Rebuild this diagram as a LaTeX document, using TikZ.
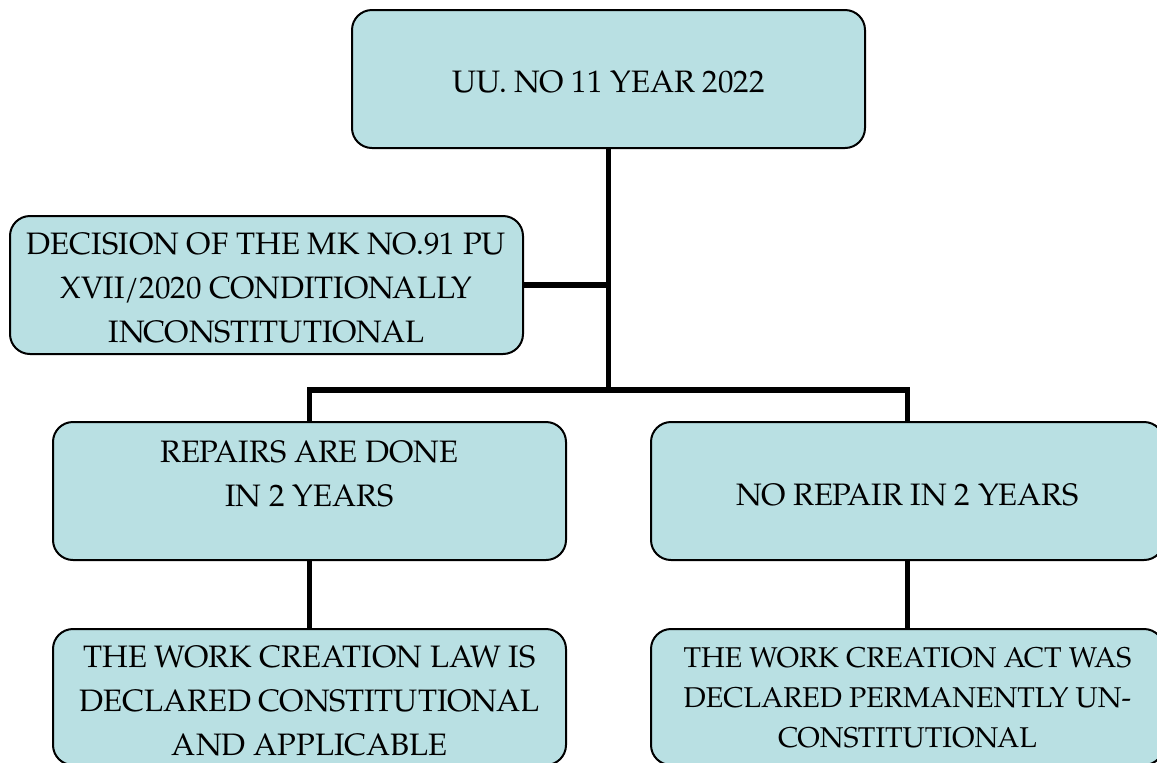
\documentclass[tikz,border=0pt]{standalone}
\usepackage{fontspec}
\setmainfont{texgyrepagella}[Extension=.otf,UprightFont=*-regular,BoldFont=*-bold]
\definecolor{boxfill}{RGB}{185,224,227}
\newcommand\tlines[2]{\raisebox{#1}[\height][\depth]{\begin{tabular}{@{}c@{}}#2\end{tabular}}}
\tikzset{
  box/.style={draw=black, line width=1pt, fill=boxfill, rounded corners=10pt,
    minimum width=256.5pt, minimum height=69pt, inner sep=0pt, align=center,
    font=\fontsize{15.5}{22}\selectfont},
  smalltext/.style={font=\fontsize{14.3}{20}\selectfont},
  conn/.style={line width=2.6pt, line join=miter}
}
\begin{document}
\begin{tikzpicture}[x=0.5pt,y=-0.5pt]
\useasboundingbox (0,0) rectangle (1157,762);
\clip (0,0) rectangle (1157,762);
\node[box] (top) at (608.5,79) {\tlines{-2.1pt}{UU. NO 11 YEAR 2022}};
\node[box] (dec) at (266.5,285) {\tlines{-2.3pt}{DECISION OF THE MK NO.91 PU\\XVII/2020 CONDITIONALLY\\INCONSTITUTIONAL}};
\node[box] (rep) at (309.5,491) {\tlines{7.9pt}{REPAIRS ARE DONE\\IN 2 YEARS}};
\node[box] (norep) at (907.5,491) {\tlines{-2.6pt}{NO REPAIR IN 2 YEARS}};
\node[box, minimum height=68pt] (law) at (309.5,697) {\tlines{-2.6pt}{THE WORK CREATION LAW IS\\DECLARED CONSTITUTIONAL\\AND APPLICABLE}};
\node[box, smalltext, minimum height=68pt] (act) at (907.5,697) {\tlines{-1.2pt}{THE WORK CREATION ACT WAS\\DECLARED PERMANENTLY UN-\\CONSTITUTIONAL}};
\coordinate (hub) at (top.south |- 0,390);
\draw[conn] (top.south) -- (hub);
\draw[conn] (dec.east) -- (dec.east -| top.south);
\draw[conn] (rep.north) |- (hub) -| (norep.north);
\draw[conn] (rep.south) -- (law.north);
\draw[conn] (norep.south) -- (act.north);
\end{tikzpicture}
\end{document}
